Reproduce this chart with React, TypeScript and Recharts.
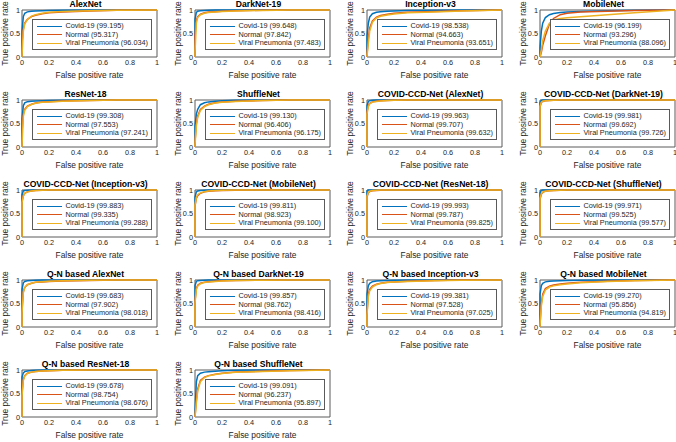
import React from 'react';
import { LineChart, Line, XAxis, YAxis, Legend, ReferenceArea } from 'recharts';

// Shared false-positive-rate grid (first two points form the vertical rise at x = 0)
const FPR = [0, 0, 0.01, 0.02, 0.04, 0.07, 0.1, 0.15, 0.2, 0.3, 0.5, 0.7, 1];

const TITLES = [
  'AlexNet', 'DarkNet-19', 'Inception-v3', 'MobileNet',
  'ResNet-18', 'ShuffleNet', 'COVID-CCD-Net (AlexNet)', 'COVID-CCD-Net (DarkNet-19)',
  'COVID-CCD-Net (Inception-v3)', 'COVID-CCD-Net (MobileNet)', 'COVID-CCD-Net (ResNet-18)', 'COVID-CCD-Net (ShuffleNet)',
  'Q-N based AlexNet', 'Q-N based DarkNet-19', 'Q-N based Inception-v3', 'Q-N based MobileNet',
  'Q-N based ResNet-18', 'Q-N based ShuffleNet',
];

const AUC_COVID = ['99.195', '99.648', '98.538', '96.199', '99.308', '99.130', '99.963', '99.981', '99.883', '99.811', '99.993', '99.971', '99.683', '99.857', '99.381', '99.270', '99.678', '99.091'];
const AUC_NORMAL = ['95.317', '97.842', '94.663', '93.296', '97.553', '96.406', '99.707', '99.692', '99.335', '98.923', '99.787', '99.525', '97.902', '98.762', '97.528', '95.856', '98.754', '96.237'];
const AUC_VIRAL = ['96.034', '97.483', '93.651', '88.096', '97.241', '96.175', '99.632', '99.726', '99.288', '99.100', '99.825', '99.577', '98.018', '98.416', '97.025', '94.819', '98.676', '95.897'];

// TPR values per panel (Covid-19 / Normal / Viral Pneumonia)
const COVID_TPR = [
  [0, 0.55, 0.86, 0.93, 0.96, 0.975, 0.98, 0.985, 0.99, 0.995, 1, 1, 1],
  [0, 0.8, 0.95, 0.975, 0.985, 0.99, 0.995, 1, 1, 1, 1, 1, 1],
  [0, 0.45, 0.72, 0.85, 0.92, 0.95, 0.965, 0.975, 0.98, 0.99, 0.995, 1, 1],
  [0, 0.2, 0.55, 0.72, 0.84, 0.9, 0.925, 0.945, 0.955, 0.97, 0.985, 0.995, 1],
  [0, 0.6, 0.88, 0.94, 0.965, 0.975, 0.98, 0.985, 0.99, 0.995, 1, 1, 1],
  [0, 0.45, 0.7, 0.8, 0.9, 0.94, 0.96, 0.975, 0.985, 0.995, 1, 1, 1],
  [0, 0.88, 0.97, 0.985, 0.995, 1, 1, 1, 1, 1, 1, 1, 1],
  [0, 0.95, 0.99, 1, 1, 1, 1, 1, 1, 1, 1, 1, 1],
  [0, 0.9, 0.98, 0.99, 0.995, 1, 1, 1, 1, 1, 1, 1, 1],
  [0, 0.85, 0.96, 0.98, 0.99, 0.995, 1, 1, 1, 1, 1, 1, 1],
  [0, 0.98, 1, 1, 1, 1, 1, 1, 1, 1, 1, 1, 1],
  [0, 0.94, 0.99, 1, 1, 1, 1, 1, 1, 1, 1, 1, 1],
  [0, 0.8, 0.94, 0.97, 0.985, 0.99, 0.995, 1, 1, 1, 1, 1, 1],
  [0, 0.88, 0.97, 0.985, 0.99, 0.995, 1, 1, 1, 1, 1, 1, 1],
  [0, 0.7, 0.88, 0.93, 0.965, 0.98, 0.985, 0.99, 0.995, 1, 1, 1, 1],
  [0, 0.7, 0.88, 0.93, 0.96, 0.975, 0.98, 0.985, 0.99, 0.995, 1, 1, 1],
  [0, 0.85, 0.94, 0.965, 0.98, 0.99, 0.995, 1, 1, 1, 1, 1, 1],
  [0, 0.1, 0.75, 0.88, 0.93, 0.955, 0.965, 0.975, 0.985, 0.995, 1, 1, 1],
];
const NORMAL_TPR = [
  [0, 0.3, 0.6, 0.72, 0.8, 0.86, 0.89, 0.92, 0.94, 0.96, 0.98, 0.995, 1],
  [0, 0.45, 0.78, 0.86, 0.91, 0.94, 0.955, 0.965, 0.975, 0.985, 0.995, 1, 1],
  [0, 0.05, 0.4, 0.62, 0.77, 0.85, 0.885, 0.91, 0.93, 0.95, 0.97, 0.985, 1],
  [0, 0, 0.1, 0.25, 0.45, 0.7, 0.82, 0.9, 0.93, 0.955, 0.975, 0.99, 1],
  [0, 0.3, 0.7, 0.8, 0.87, 0.91, 0.935, 0.955, 0.965, 0.98, 0.99, 1, 1],
  [0, 0.1, 0.5, 0.66, 0.8, 0.87, 0.91, 0.94, 0.955, 0.975, 0.99, 1, 1],
  [0, 0.75, 0.88, 0.93, 0.96, 0.975, 0.985, 0.99, 0.995, 1, 1, 1, 1],
  [0, 0.85, 0.95, 0.97, 0.985, 0.99, 0.995, 1, 1, 1, 1, 1, 1],
  [0, 0.75, 0.88, 0.93, 0.96, 0.98, 0.99, 0.995, 1, 1, 1, 1, 1],
  [0, 0.65, 0.82, 0.88, 0.93, 0.96, 0.975, 0.985, 0.99, 0.995, 1, 1, 1],
  [0, 0.85, 0.94, 0.97, 0.985, 0.99, 0.995, 1, 1, 1, 1, 1, 1],
  [0, 0.8, 0.91, 0.95, 0.975, 0.985, 0.99, 0.995, 1, 1, 1, 1, 1],
  [0, 0.35, 0.75, 0.84, 0.9, 0.93, 0.95, 0.96, 0.97, 0.98, 0.99, 1, 1],
  [0, 0.55, 0.82, 0.89, 0.93, 0.955, 0.965, 0.975, 0.985, 0.99, 0.995, 1, 1],
  [0, 0.3, 0.7, 0.8, 0.87, 0.91, 0.93, 0.95, 0.96, 0.975, 0.99, 1, 1],
  [0, 0.05, 0.5, 0.7, 0.82, 0.87, 0.895, 0.915, 0.93, 0.95, 0.975, 0.99, 1],
  [0, 0.5, 0.8, 0.88, 0.93, 0.955, 0.97, 0.98, 0.985, 0.995, 1, 1, 1],
  [0, 0, 0.35, 0.6, 0.78, 0.85, 0.88, 0.91, 0.93, 0.955, 0.975, 0.99, 1],
];
const VIRAL_TPR = [
  [0, 0.05, 0.55, 0.7, 0.8, 0.87, 0.9, 0.93, 0.95, 0.97, 0.985, 0.995, 1],
  [0, 0.1, 0.72, 0.84, 0.9, 0.93, 0.945, 0.96, 0.97, 0.98, 0.99, 1, 1],
  [0, 0.02, 0.3, 0.55, 0.74, 0.83, 0.865, 0.895, 0.915, 0.94, 0.96, 0.98, 1],
  [0, 0, 0.15, 0.35, 0.55, 0.72, 0.79, 0.82, 0.835, 0.855, 0.9, 0.94, 1],
  [0, 0.05, 0.65, 0.78, 0.86, 0.905, 0.93, 0.95, 0.96, 0.975, 0.99, 1, 1],
  [0, 0.05, 0.45, 0.63, 0.78, 0.86, 0.9, 0.935, 0.95, 0.97, 0.99, 1, 1],
  [0, 0.7, 0.86, 0.92, 0.955, 0.97, 0.98, 0.99, 0.995, 1, 1, 1, 1],
  [0, 0.86, 0.955, 0.975, 0.985, 0.99, 0.995, 1, 1, 1, 1, 1, 1],
  [0, 0.73, 0.87, 0.93, 0.96, 0.98, 0.99, 0.995, 1, 1, 1, 1, 1],
  [0, 0.68, 0.84, 0.9, 0.94, 0.965, 0.98, 0.99, 0.995, 1, 1, 1, 1],
  [0, 0.87, 0.95, 0.975, 0.99, 0.995, 1, 1, 1, 1, 1, 1, 1],
  [0, 0.82, 0.92, 0.955, 0.975, 0.985, 0.99, 0.995, 1, 1, 1, 1, 1],
  [0, 0.3, 0.74, 0.84, 0.9, 0.93, 0.95, 0.965, 0.975, 0.985, 0.995, 1, 1],
  [0, 0.5, 0.8, 0.87, 0.92, 0.945, 0.96, 0.97, 0.98, 0.99, 0.995, 1, 1],
  [0, 0.25, 0.65, 0.77, 0.85, 0.9, 0.925, 0.945, 0.955, 0.97, 0.985, 0.995, 1],
  [0, 0.03, 0.45, 0.65, 0.79, 0.85, 0.875, 0.9, 0.915, 0.94, 0.97, 0.985, 1],
  [0, 0.45, 0.78, 0.87, 0.925, 0.955, 0.97, 0.98, 0.985, 0.995, 1, 1, 1],
  [0, 0, 0.3, 0.55, 0.75, 0.84, 0.875, 0.905, 0.925, 0.95, 0.97, 0.985, 1],
];

const X_TICKS = [0, 0.2, 0.4, 0.6, 0.8, 1];
const Y_TICKS = [0, 0.5, 1];
const COLORS = ['#0072BD', '#D95319', '#EDB120'];

const FONT = 'Arial, "Liberation Sans", Helvetica, sans-serif';
const TXT = '#262626';
const CELL_W = 173;
const CELL_H = 90;
const COL_STEP = 172.7;
const PLOT_LEFT = 22;
const PLOT_W = 135;
const PLOT_TOP = 10;
const PLOT_H = 47;

const renderLegend = (props: any) => {
  const payload = props.payload || [];
  return (
    <div
      style={{
        border: '1px solid #5a5a5a',
        background: '#fff',
        padding: '2px 3px 1px 4px',
        fontFamily: FONT,
        fontSize: 7.3,
        lineHeight: '8.7px',
        color: TXT,
        whiteSpace: 'nowrap',
      }}
    >
      {payload.map((p: any) => (
        <div key={p.value} style={{ display: 'flex', alignItems: 'center', height: 8.7 }}>
          <span
            style={{
              display: 'inline-block',
              width: 25,
              height: 0,
              borderTop: `1.5px solid ${p.color}`,
              marginRight: 3.5,
            }}
          />
          <span>{p.value}</span>
        </div>
      ))}
    </div>
  );
};

function Panel({ idx }: { idx: number }) {
  const col = idx % 4;
  const row = Math.floor(idx / 4);
  const left = Math.round(col * COL_STEP);
  const top = row * CELL_H;
  const data = FPR.map((x, i) => ({
    fpr: x,
    c: COVID_TPR[idx][i],
    n: NORMAL_TPR[idx][i],
    v: VIRAL_TPR[idx][i],
  }));
  const tickStyle = { fontSize: 7.3, fill: TXT, fontFamily: FONT };
  return (
    <div style={{ position: 'absolute', left, top, width: CELL_W, height: CELL_H }}>
      <LineChart
        width={CELL_W}
        height={CELL_H}
        data={data}
        margin={{ top: PLOT_TOP, right: CELL_W - PLOT_LEFT - PLOT_W, bottom: 0, left: 0 }}
      >
        <XAxis
          dataKey="fpr"
          type="number"
          domain={[0, 1]}
          ticks={X_TICKS}
          height={CELL_H - PLOT_TOP - PLOT_H}
          axisLine={false}
          tickLine={false}
          tickSize={2}
          tickMargin={1}
          tick={tickStyle}
          interval={0}
          label={{
            value: 'False positive rate',
            position: 'insideBottom',
            offset: 12,
            style: { fontSize: 8.4, fill: TXT, fontFamily: FONT },
          }}
        />
        <YAxis
          type="number"
          domain={[0, 1]}
          ticks={Y_TICKS}
          width={PLOT_LEFT}
          axisLine={false}
          tickLine={false}
          tickSize={2}
          tickMargin={0}
          tick={tickStyle}
          interval={0}
          label={{
            value: 'True positive rate',
            angle: -90,
            position: 'insideLeft',
            offset: 5,
            style: { fontSize: 8.4, fill: TXT, fontFamily: FONT, textAnchor: 'middle' },
          }}
        />
        <ReferenceArea x1={0} x2={1} y1={0} y2={1} fill="none" fillOpacity={0} stroke="#5a5a5a" strokeWidth={1} />
        <Line type="linear" dataKey="c" name={`Covid-19 (${AUC_COVID[idx]})`} stroke={COLORS[0]} strokeWidth={1.5} dot={false} isAnimationActive={false} />
        <Line type="linear" dataKey="n" name={`Normal (${AUC_NORMAL[idx]})`} stroke={COLORS[1]} strokeWidth={1.5} dot={false} isAnimationActive={false} />
        <Line type="linear" dataKey="v" name={`Viral Pneumonia (${AUC_VIRAL[idx]})`} stroke={COLORS[2]} strokeWidth={1.5} dot={false} isAnimationActive={false} />
        <Legend
          layout="vertical"
          align="center"
          verticalAlign="middle"
          content={renderLegend}
          wrapperStyle={{ right: CELL_W - PLOT_LEFT - PLOT_W + 5, bottom: CELL_H - PLOT_TOP - PLOT_H + 7, width: 'auto', height: 'auto' }}
        />
      </LineChart>
      <svg
        width={CELL_W}
        height={12}
        style={{ position: 'absolute', left: 0, top: 0, pointerEvents: 'none', overflow: 'visible' }}
      >
        <text
          x={PLOT_LEFT + PLOT_W / 2 - 4}
          y={7}
          textAnchor="middle"
          fontFamily={FONT}
          fontSize={8.6}
          fontWeight="bold"
          fill="#000"
        >
          {TITLES[idx]}
        </text>
      </svg>
    </div>
  );
}

export default function App() {
  return (
    <div
      style={{
        position: 'absolute',
        left: 0,
        top: 0,
        width: 676,
        height: 442,
        overflow: 'hidden',
        background: '#fff',
      }}
    >
      {TITLES.map((_, i) => (
        <Panel key={i} idx={i} />
      ))}
    </div>
  );
}
